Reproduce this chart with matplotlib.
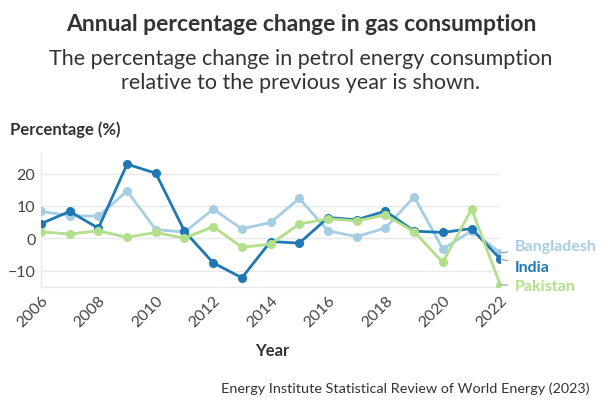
import matplotlib.pyplot as plt

years = list(range(2006, 2023))
bangladesh = [8.3, 7.0, 6.8, 14.6, 2.7, 1.9, 9.0, 2.9, 4.9, 12.3, 2.3, 0.5, 3.2, 12.8, -3.3, 2.3, -4.5]
india = [4.5, 8.3, 3.1, 22.9, 20.1, 2.2, -7.6, -12.2, -1.0, -1.5, 6.4, 5.7, 8.4, 2.2, 1.8, 3.0, -6.4]
pakistan = [2.0, 1.3, 2.3, 0.3, 1.8, 0.0, 3.6, -2.8, -1.8, 4.4, 6.0, 5.4, 7.2, 2.0, -7.4, 9.0, -14.4]

series = [
    ("Bangladesh", bangladesh, "#a6cee3", -2.5),
    ("India", india, "#1f78b4", -8.8),
    ("Pakistan", pakistan, "#b2df8a", -14.7),
]

plt.rcParams['font.family'] = ['Lato', 'DejaVu Sans']

fig = plt.figure(figsize=(6.02, 4.14), dpi=100)
ax = fig.add_axes([0.068, 0.304, 0.763, 0.326])

for name, vals, col, ylab in series:
    ax.plot(years, vals, color=col, lw=2.0, marker='o', ms=5.5, zorder=3)
    ax.annotate(name, xy=(2022, vals[-1]), xytext=(2022.5, ylab),
                color=col, fontsize=11.5, fontweight='bold', va='center',
                annotation_clip=False,
                arrowprops=dict(arrowstyle='-', color='#999999', lw=0.8,
                                shrinkA=3, shrinkB=6))

ax.set_xlim(2006, 2022)
ax.set_ylim(-15.1, 26.6)
ax.set_yticks([-10, 0, 10, 20])
ax.set_xticks(range(2006, 2023, 2))
ax.grid(axis='y', color='#e8e8e8', lw=1)
ax.set_axisbelow(True)
for s in ['top', 'right']:
    ax.spines[s].set_visible(False)
for s in ['left', 'bottom']:
    ax.spines[s].set_color('#e8e8e8')
    ax.spines[s].set_linewidth(1)
ax.tick_params(length=0, labelsize=11.5, colors='#444444', pad=4)
plt.setp(ax.get_xticklabels(), rotation=45, ha='right', rotation_mode='anchor')

fig.text(0.5, 0.925, "Annual percentage change in gas consumption",
         ha='center', fontsize=16.5, fontweight='bold', color='#333333')
fig.text(0.5, 0.785, "The percentage change in petrol energy consumption\nrelative to the previous year is shown.",
         ha='center', fontsize=15.5, color='#333333', linespacing=1.25)
fig.text(0.017, 0.675, "Percentage (%)", fontsize=12, fontweight='bold', color='#333333')
fig.text(0.452, 0.14, "Year", ha='center', fontsize=12, fontweight='bold', color='#333333')
fig.text(0.98, 0.05, "Energy Institute Statistical Review of World Energy (2023)",
         ha='right', fontsize=10.4, color='#333333')

fig.savefig('out.png', dpi=100)
